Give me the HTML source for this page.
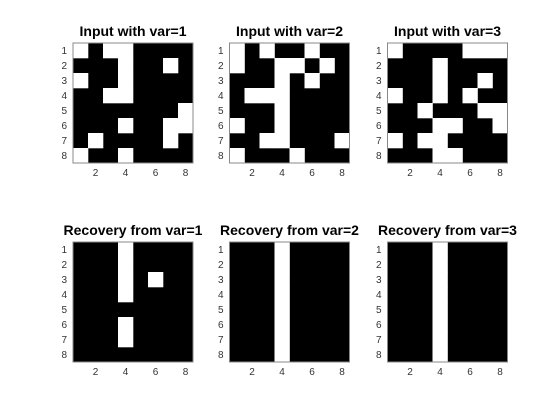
<!DOCTYPE html>
<html><head><meta charset="utf-8"><style>
body{margin:0;background:#fff;}
svg{display:block;font-family:"Liberation Sans",sans-serif;}
</style></head><body>
<svg id="fig" width="560" height="420"></svg>
<script>
const input1=[[1,0,1,1,0,0,0,0],[0,0,0,1,0,0,1,0],[1,0,0,1,0,0,0,0],[0,0,1,1,0,0,0,0],[0,0,0,0,0,0,0,1],[0,0,0,1,0,0,1,1],[0,1,0,0,0,0,1,0],[1,0,0,1,0,0,0,0]];
const input2=[[1,0,1,0,0,1,0,0],[1,0,0,1,1,0,1,0],[0,0,0,1,0,1,0,0],[0,1,1,1,0,0,0,0],[0,0,0,1,0,0,0,0],[1,0,0,1,0,0,0,0],[0,0,1,1,0,0,0,1],[1,0,0,0,1,0,0,0]];
const input3=[[1,0,0,0,0,1,1,1],[0,0,0,1,0,0,0,0],[0,0,0,1,0,0,1,0],[1,0,0,1,0,1,0,0],[0,0,1,0,0,0,1,1],[0,0,0,1,1,0,0,1],[1,0,1,1,0,0,0,0],[0,0,0,1,1,0,0,0]];
const rec1=[[0,0,0,1,0,0,0,0],[0,0,0,1,0,0,0,0],[0,0,0,1,0,1,0,0],[0,0,0,1,0,0,0,0],[0,0,0,0,0,0,0,0],[0,0,0,1,0,0,0,0],[0,0,0,1,0,0,0,0],[0,0,0,0,0,0,0,0]];
const rec2=[[0,0,0,1,0,0,0,0],[0,0,0,1,0,0,0,0],[0,0,0,1,0,0,0,0],[0,0,0,1,0,0,0,0],[0,0,0,1,0,0,0,0],[0,0,0,1,0,0,0,0],[0,0,0,1,0,0,0,0],[0,0,0,1,0,0,0,0]];
const rec3=[[0,0,0,1,0,0,0,0],[0,0,0,1,0,0,0,0],[0,0,0,1,0,0,0,0],[0,0,0,1,0,0,0,0],[0,0,0,1,0,0,0,0],[0,0,0,1,0,0,0,0],[0,0,0,1,0,0,0,0],[0,0,0,1,0,0,0,0]];
const titles=["Input with var=1","Input with var=2","Input with var=3","Recovery from var=1","Recovery from var=2","Recovery from var=3"];
const xTicks=[2,4,6,8];
const yTicks=[1,2,3,4,5,6,7,8];
const mats=[input1,input2,input3,rec1,rec2,rec3];
const NS="http://www.w3.org/2000/svg";
const svg=document.getElementById('fig');
const lefts=[73,229.5,387.5], tops=[43,242];
const W=120;
function mk(t,a,p){const e=document.createElementNS(NS,t);for(const k in a)e.setAttribute(k,a[k]);(p||svg).appendChild(e);return e;}
mats.forEach((m,i)=>{
  const x0=lefts[i%3], y0=tops[Math.floor(i/3)];
  const n=m.length, c=W/n;
  const g=mk('g',{});
  
  
  const bg=mk('rect',{x:x0,y:y0,width:W,height:W,fill:'#000'},g);
  
  
  m.forEach((row,r)=>row.forEach((v,k)=>{
    if(v){const cell=mk('rect',{x:x0+k*c,y:y0+r*c,width:c+0.3,height:c+0.3,fill:'#fff'},g);
    
    }
  }));
  const fr=mk('rect',{x:x0,y:y0,width:W,height:W,fill:'none',stroke:'#888','stroke-width':1},g);
  
  
  const t=mk('text',{x:x0+W/2,y:y0-7,'text-anchor':'middle','font-size':'14','font-weight':'bold',fill:'#000'},g);
  t.textContent=titles[i];
  
  
  xTicks.forEach(v=>{
    const xt=mk('text',{x:x0+(v-0.5)*c,y:y0+W+13,'text-anchor':'middle','font-size':'10',fill:'#333'},g);
    xt.textContent=v;
    
    
  });
  yTicks.forEach(v=>{
    const yt=mk('text',{x:x0-6,y:y0+(v-0.5)*c+3.5,'text-anchor':'end','font-size':'10',fill:'#333'},g);
    yt.textContent=v;
    
    
  });
});
</script>
</body></html>
